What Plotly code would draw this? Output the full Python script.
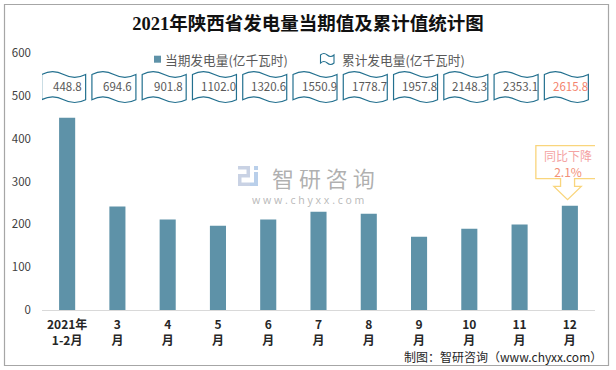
import plotly.graph_objects as go

# ---------------- data ----------------
categories = ["2021年<br>1-2月", "3<br>月", "4<br>月", "5<br>月", "6<br>月", "7<br>月",
              "8<br>月", "9<br>月", "10<br>月", "11<br>月", "12<br>月"]
monthly = [448.8, 241.6, 211.3, 196.9, 211.1, 229.4, 225.0, 171.1, 189.8, 199.4, 243.6]
cumulative = [448.8, 694.6, 901.8, 1102.0, 1320.6, 1550.9, 1778.7, 1957.8, 2148.3, 2353.1, 2615.8]
y_ticks = [0, 100, 200, 300, 400, 500, 600]
title_text = "2021年陕西省发电量当期值及累计值统计图"
legend_names = ["当期发电量(亿千瓦时)", "累计发电量(亿千瓦时)"]
callout_lines = ["同比下降", "2.1%"]
source_text = "制图：智研咨询（www.chyxx.com）"

# ---------------- geometry helpers ----------------
W, H = 616, 370
ML, MR, MT, MB = 42, 21, 53, 60
PW, PH = W - ML - MR, H - MT - MB
YMAX = 600
n = len(categories)
ux = n / PW            # data units per px (x)
uy = YMAX / PH         # data units per px (y)


def fx(px):
    return (px - ML) / PW


def fy(py):
    return (H - MB - py) / PH


def dy(py):            # pixel row -> y data value
    return (H - MB - py) * uy


def wave_path(x0, x1, yt, yb, a):
    w = x1 - x0
    xm = (x0 + x1) / 2
    k = 4 / 3 * a
    return (f"M{x0},{yt} C{x0 + w / 6},{yt + k} {x0 + w / 3},{yt + k} {xm},{yt} "
            f"C{xm + w / 6},{yt - k} {xm + w / 3},{yt - k} {x1},{yt} "
            f"L{x1},{yb} C{x1 - w / 6},{yb - k} {x1 - w / 3},{yb - k} {xm},{yb} "
            f"C{xm - w / 6},{yb + k} {xm - w / 3},{yb + k} {x0},{yb} Z")


BAR = "#5E92A8"
TEAL = "#23708F"
FONT = "Microsoft YaHei, Noto Sans CJK SC, Noto Sans, sans-serif"

xs = list(range(n))
fig = go.Figure()
fig.add_trace(go.Bar(x=xs, y=monthly, width=0.32, marker=dict(color=BAR, line=dict(width=0)),
                     showlegend=False, hoverinfo="skip"))

shapes = []
annotations = []


def ann(**kw):
    kw.setdefault("showarrow", False)
    kw.setdefault("xanchor", "center")
    kw.setdefault("yanchor", "middle")
    annotations.append(kw)


# cumulative flags
for i, v in enumerate(cumulative):
    cx = i - 3.5 * ux
    hw = 22 * ux
    shapes.append(dict(type="path", xref="x", yref="y",
                       path=wave_path(cx - hw, cx + hw, dy(74.5), dy(99.7), 2.8 * uy),
                       line=dict(color=TEAL, width=1.2), fillcolor="white", layer="above"))
    ann(x=i + 0.5 * ux, y=dy(86), xref="x", yref="y", text=f"{v:.1f}",
        font=dict(size=11.5, family=FONT, color="#F4836D" if i == n - 1 else "#595959"))

# callout on last bar
tx = (n - 1) - 2.3 * ux
ty = monthly[-1] + 6 * uy


def cp(ox, oy):
    return f"{tx + ox * ux},{ty - oy * uy}"


callout = ("M" + cp(-31.7, -54) + " L" + cp(31.3, -54) + " L" + cp(31.3, -21) + " L" + cp(7, -21)
           + " L" + cp(7, -13.3) + " L" + cp(13.7, -13.3) + " L" + cp(0, 0) + " L" + cp(-13.7, -13.3)
           + " L" + cp(-7, -13.3) + " L" + cp(-7, -21) + " L" + cp(-31.7, -21) + " Z")
shapes.append(dict(type="path", xref="x", yref="y", path=callout,
                   line=dict(color="#F9D57C", width=1.3), fillcolor="white"))
ann(x=tx, y=ty + 36 * uy, xref="x", yref="y",
    text=(f"<span style='color:#F4A3A3'>{callout_lines[0]}</span><br>"
          f"<span style='color:#F29077'>{callout_lines[1]}</span>"),
    font=dict(size=12, family=FONT, color="#F4A3A3"))

# legend (manual)
shapes.append(dict(type="rect", xref="paper", yref="paper", x0=fx(154), x1=fx(161),
                   y0=fy(62.7), y1=fy(55.7), fillcolor=BAR, line=dict(width=0)))
ann(x=fx(163), y=fy(59), xref="paper", yref="paper", text=legend_names[0], xanchor="left",
    font=dict(size=12.7, family=FONT, color="#595959"))
shapes.append(dict(type="path", xref="paper", yref="paper",
                   path=wave_path(fx(320.5), fx(334), fy(55), fy(63), 1.5 / PH),
                   line=dict(color=TEAL, width=1.1), fillcolor="white"))
ann(x=fx(339.5), y=fy(59), xref="paper", yref="paper", text=legend_names[1], xanchor="left",
    font=dict(size=12.7, family=FONT, color="#595959"))

# watermark
ann(x=fx(323), y=fy(176.5), xref="paper", yref="paper", text="智 研 咨 询",
    font=dict(size=22, family="Noto Sans CJK SC", color="rgba(150,150,150,0.75)"))
ann(x=fx(308), y=fy(199.5), xref="paper", yref="paper", text="w w w . c h y x x . c o m",
    font=dict(size=10.5, family="Noto Sans", color="rgba(170,170,170,0.8)"))
logo_rects = [
    (238, 250, 166, 169.5, "#C9D2E4"), (246.5, 250, 166, 177, "#C9D2E4"),
    (238, 250, 174, 177.5, "#C9D2E4"), (238, 241.5, 174, 186, "#C9D2E4"),
    (238, 250, 182.5, 186, "#C9D2E4"),
    (254, 258, 166, 170, "#B9CFEA"), (254, 258, 172, 186, "#B9CFEA"), (250, 258, 182.5, 186, "#B9CFEA"),
]
for x0, x1, y0, y1, c in logo_rects:
    shapes.append(dict(type="rect", xref="paper", yref="paper", x0=fx(x0), x1=fx(x1),
                       y0=fy(y1), y1=fy(y0), fillcolor=c, line=dict(width=0), layer="below"))

# source
ann(x=fx(604), y=fy(356), xref="paper", yref="paper", text=source_text, xanchor="right",
    font=dict(size=12, family="Noto Sans CJK SC", color="#262626"))

# outer border
shapes.append(dict(type="rect", xref="paper", yref="paper", x0=fx(4.5), x1=fx(608.5),
                   y0=fy(365.5), y1=fy(4.5), line=dict(color="#A6A6A6", width=1.2),
                   fillcolor="rgba(0,0,0,0)"))

fig.update_layout(
    width=W, height=H,
    margin=dict(l=ML, r=MR, t=MT, b=MB),
    paper_bgcolor="white", plot_bgcolor="white",
    title=dict(text=title_text, x=0.5, xref="container", xanchor="center",
               y=1 - 24 / H, yanchor="middle",
               font=dict(size=18.5, family="Liberation Serif, Noto Sans CJK SC, serif",
                         color="#111111", weight="bold")),
    xaxis=dict(range=[-0.5, n - 0.5], tickmode="array", tickvals=xs, ticktext=categories,
               showgrid=False, zeroline=False, showline=True, linecolor="#D9D9D9", linewidth=1,
               ticks="", ticklabelstandoff=4,
               tickfont=dict(size=12, family=FONT, color="#262626", weight="bold"),
               fixedrange=True),
    yaxis=dict(range=[0, YMAX], tickmode="array", tickvals=y_ticks, showgrid=False,
               zeroline=False, showline=False, ticks="", ticklabelstandoff=10,
               tickfont=dict(size=11.5, family=FONT, color="#404040"), fixedrange=True),
    shapes=shapes, annotations=annotations,
    showlegend=False,
)

fig.write_html("out.html", config={"displayModeBar": False},
               post_script="document.body.style.margin='0';document.body.style.padding='0';")
